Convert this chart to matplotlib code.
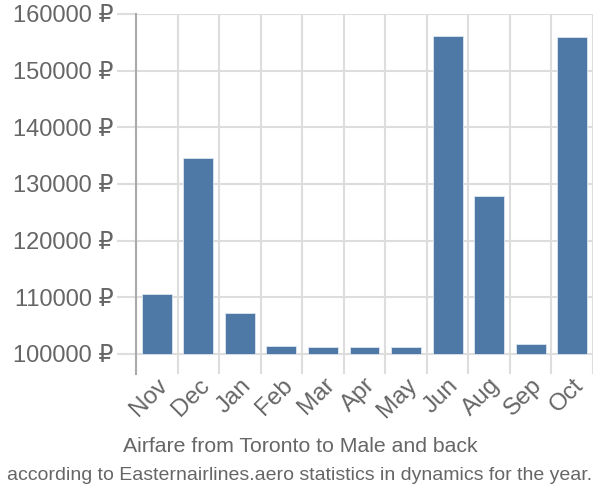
import numpy as np
import matplotlib.pyplot as plt

months = ['Nov', 'Dec', 'Jan', 'Feb', 'Mar', 'Apr', 'May', 'Jun', 'Aug', 'Sep', 'Oct']
prices = [110600, 134600, 107300, 101400, 101300, 101300, 101300, 156100, 127800, 101800, 155900]
yticks = [100000, 110000, 120000, 130000, 140000, 150000, 160000]
base = 100000

plt.rcParams['font.family'] = ['Liberation Sans', 'DejaVu Sans']
text_col = '#666666'
grid_col = '#dddddd'

fig = plt.figure(figsize=(6, 5), dpi=100)
ax = fig.add_axes([136 / 600, 1 - 374 / 500, 457 / 600, 360 / 500])

x = np.arange(len(months))
heights = [p - base for p in prices]
ax.bar(x, heights, bottom=base, width=0.72, color='#4e79a7', edgecolor='#dde6ef', linewidth=0.6, zorder=3)

ax.set_xlim(-0.5, len(months) - 0.5)
ax.set_ylim(base - 3530, 160000)

# y axis: gridlines + long outward ticks
ax.set_yticks(yticks)
ax.set_yticklabels([f'{v} \u20bd' for v in yticks])
ax.yaxis.grid(True, color=grid_col, linewidth=1.5, zorder=0)
ax.tick_params(axis='y', length=14, width=1.5, color=grid_col, pad=2, labelsize=17, labelcolor=text_col)

# x axis: boundaries as minor ticks (gridlines), labels at centers
ax.set_xticks(x)
ax.set_xticklabels(months, rotation=45, ha='right', rotation_mode='anchor')
ax.set_xticks(np.arange(len(months) + 1) - 0.5, minor=True)
ax.xaxis.grid(True, which='minor', color=grid_col, linewidth=1.5, zorder=0)
ax.tick_params(axis='x', which='major', length=0, pad=0, labelsize=17.5, labelcolor=text_col)
ax.tick_params(axis='x', which='minor', length=0)

for s in ['top', 'right', 'bottom']:
    ax.spines[s].set_visible(False)
ax.spines['left'].set_color('#aaaaaa')
ax.spines['left'].set_linewidth(1.5)
ax.spines['left'].set_zorder(4)

fig.text(0.5, 1 - 446 / 500, 'Airfare from Toronto to Male and back', ha='center', va='center',
         fontsize=15.3, color=text_col)
fig.text(0.5, 1 - 476 / 500, 'according to Easternairlines.aero statistics in dynamics for the year.',
         ha='center', va='center', fontsize=14, color=text_col)

fig.savefig('out.png', dpi=100)
